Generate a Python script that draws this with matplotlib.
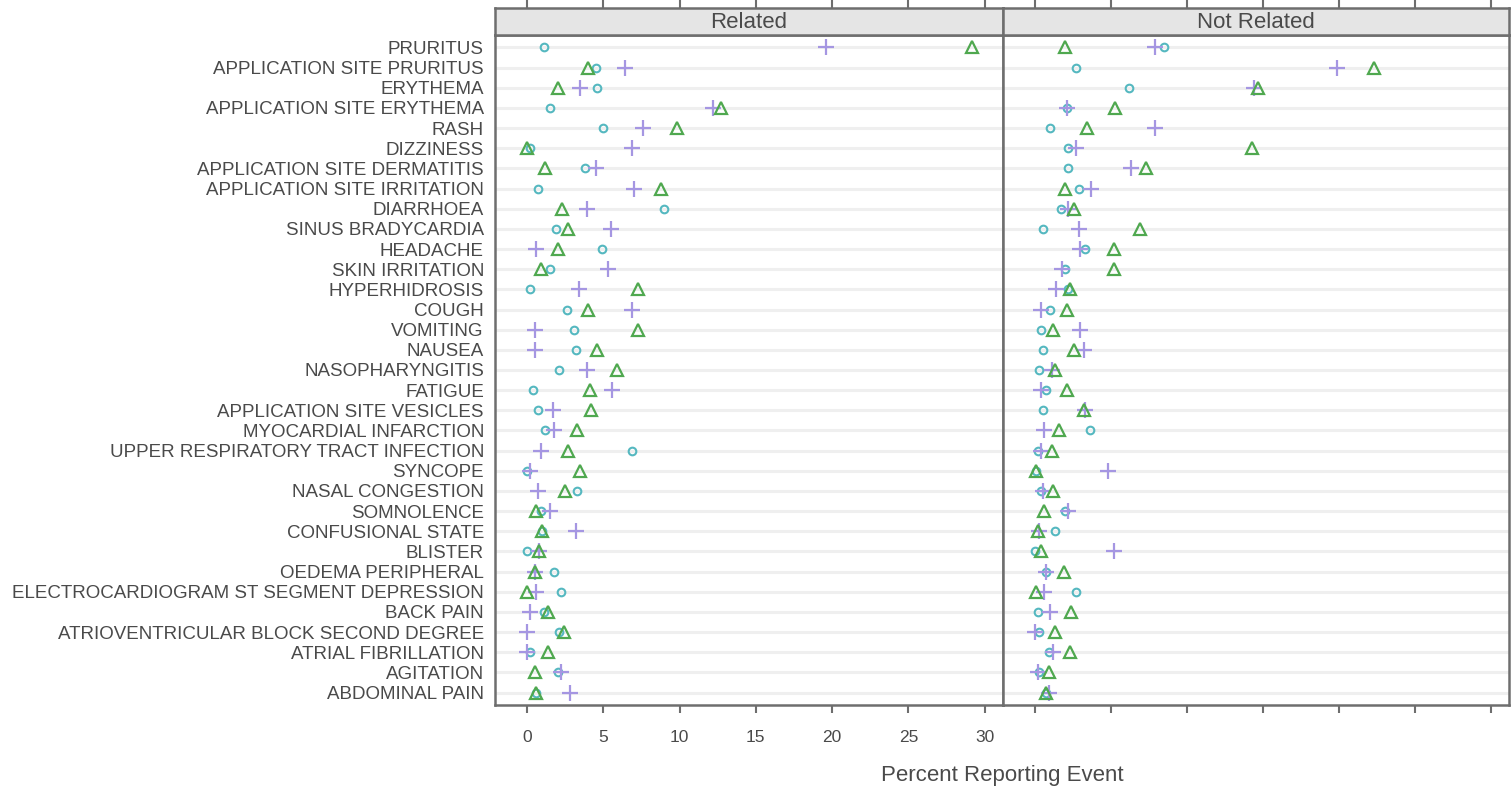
import numpy as np
import matplotlib
matplotlib.use("Agg")
import matplotlib.pyplot as plt

plt.rcParams['font.family'] = ['Liberation Sans', 'DejaVu Sans']

# adverse events, top to bottom
events = [
    "PRURITUS", "APPLICATION SITE PRURITUS", "ERYTHEMA", "APPLICATION SITE ERYTHEMA",
    "RASH", "DIZZINESS", "APPLICATION SITE DERMATITIS", "APPLICATION SITE IRRITATION",
    "DIARRHOEA", "SINUS BRADYCARDIA", "HEADACHE", "SKIN IRRITATION", "HYPERHIDROSIS",
    "COUGH", "VOMITING", "NAUSEA", "NASOPHARYNGITIS", "FATIGUE",
    "APPLICATION SITE VESICLES", "MYOCARDIAL INFARCTION", "UPPER RESPIRATORY TRACT INFECTION",
    "SYNCOPE", "NASAL CONGESTION", "SOMNOLENCE", "CONFUSIONAL STATE", "BLISTER",
    "OEDEMA PERIPHERAL", "ELECTROCARDIOGRAM ST SEGMENT DEPRESSION", "BACK PAIN",
    "ATRIOVENTRICULAR BLOCK SECOND DEGREE", "ATRIAL FIBRILLATION", "AGITATION", "ABDOMINAL PAIN",
]

panels = ["Related", "Not Related"]

# percent reporting event, three groups (circle / plus / triangle)
rel_circle = [1.1, 4.5, 4.6, 1.5, 5.0, 0.2, 3.8, 0.7, 9.0, 1.9, 4.9, 1.5, 0.2,
              2.6, 3.1, 3.2, 2.1, 0.4, 0.7, 1.2, 6.9, 0.0, 3.3, 0.9, 1.0, 0.0,
              1.8, 2.2, 1.1, 2.1, 0.2, 2.0, 0.6]
rel_plus = [19.6, 6.4, 3.5, 12.2, 7.6, 6.9, 4.5, 7.0, 3.9, 5.5, 0.6, 5.3, 3.4,
            6.9, 0.5, 0.5, 3.9, 5.6, 1.7, 1.8, 0.9, 0.2, 0.7, 1.5, 3.2, 0.8,
            0.5, 0.6, 0.2, 0.0, 0.0, 2.2, 2.8]
rel_tri = [29.2, 4.0, 2.0, 12.7, 9.8, 0.0, 1.2, 8.8, 2.3, 2.7, 2.0, 0.9, 7.3,
           4.0, 7.3, 4.6, 5.9, 4.1, 4.2, 3.3, 2.7, 3.5, 2.5, 0.6, 1.0, 0.8,
           0.5, 0.0, 1.4, 2.4, 1.4, 0.5, 0.6]

nrel_circle = [8.5, 2.7, 6.2, 2.1, 1.0, 2.2, 2.2, 2.9, 1.7, 0.5, 3.3, 2.0, 2.2,
               1.0, 0.4, 0.5, 0.3, 0.7, 0.5, 3.6, 0.2, 0.1, 0.4, 2.0, 1.3, 0.0,
               0.7, 2.7, 0.2, 0.3, 0.9, 0.3, 0.7]
nrel_plus = [7.9, 19.9, 14.4, 2.1, 7.9, 2.7, 6.3, 3.7, 2.2, 2.9, 3.0, 1.8, 1.4,
             0.4, 3.0, 3.2, 1.1, 0.4, 3.3, 0.6, 0.4, 4.8, 0.5, 2.2, 0.3, 5.2,
             0.7, 0.6, 1.0, 0.0, 1.2, 0.2, 0.9]
nrel_tri = [2.0, 22.3, 14.7, 5.3, 3.4, 14.3, 7.3, 2.0, 2.6, 6.9, 5.2, 5.2, 2.3,
            2.1, 1.2, 2.6, 1.3, 2.1, 3.2, 1.6, 1.1, 0.1, 1.2, 0.6, 0.2, 0.4,
            1.9, 0.1, 2.4, 1.3, 2.3, 0.9, 0.7]

data = {
    "Related": (rel_circle, rel_plus, rel_tri),
    "Not Related": (nrel_circle, nrel_plus, nrel_tri),
}

xticks = [0, 5, 10, 15, 20, 25, 30]

border = "#6e6e6e"
textcol = "#4a4a4a"
styles = [
    dict(marker="o", ms=5.5, mfc="none", mec="#55b8c0", mew=1.5),
    dict(marker="+", ms=11, mec="#a596e2", mew=1.6),
    dict(marker="^", ms=8.5, mfc="none", mec="#4fa84f", mew=1.6),
]

fig = plt.figure(figsize=(15.12, 7.91), dpi=100)

n = len(events)
ypos = np.arange(n, 0, -1)

lefts = [495 / 1512, 1003 / 1512]
widths = [508 / 1512, 506 / 1512]
bottom = 1 - 705 / 791
height = (705 - 35) / 791
strip_h = 27 / 791

for i, name in enumerate(panels):
    ax = fig.add_axes([lefts[i], bottom, widths[i], height])
    for y in ypos:
        ax.axhline(y, color="#efefef", lw=2.2, zorder=0)
    for vals, st in zip(data[name], styles):
        ax.plot(vals, ypos, ls="none", zorder=3, **st)
    ax.set_xlim(-2.1, 31.2)
    ax.set_ylim(0.38, n + 0.62)
    ax.set_xticks(xticks)
    ax.tick_params(axis="x", direction="out", length=6, width=1.5, color=border,
                   labelsize=12.5, labelcolor=textcol, pad=12)
    if i == 0:
        ax.set_yticks(ypos)
        ax.set_yticklabels(events, fontsize=13.5, color=textcol)
        ax.tick_params(axis="y", length=0, pad=8)
    else:
        ax.set_yticks([])
        ax.tick_params(axis="x", labelbottom=False)
    for s in ax.spines.values():
        s.set_color(border)
        s.set_linewidth(1.8)

    # strip on top of each panel
    sax = fig.add_axes([lefts[i], bottom + height, widths[i], strip_h])
    sax.set_facecolor("#e5e5e5")
    sax.set_xlim(-2.1, 31.2)
    sax.set_yticks([])
    sax.set_xticks(xticks)
    sax.tick_params(axis="x", bottom=False, top=True, labelbottom=False,
                    direction="out", length=6, width=1.5, color=border)
    for s in sax.spines.values():
        s.set_color(border)
        s.set_linewidth(1.8)
    sax.text(0.5, 0.45, name, transform=sax.transAxes, ha="center", va="center",
             fontsize=16, color=textcol)

fig.text(1002 / 1512, 1 - 775 / 791, "Percent Reporting Event", ha="center",
         va="center", fontsize=16, color=textcol)

fig.savefig("out.png", dpi=100)
